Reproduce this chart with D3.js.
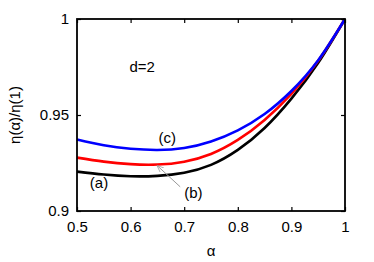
<!DOCTYPE html>
<html>
<head>
<meta charset="utf-8">
<script src="https://cdn.jsdelivr.net/npm/d3@7"></script>
<style>
  body { margin: 0; background: #fff; }
  text { font-family: "Liberation Sans", Arial, sans-serif; }
</style>
</head>
<body>
<div class="chart"></div>
<script>
// chart data
var alphas = [0.5, 0.55, 0.6, 0.65, 0.7, 0.75, 0.8, 0.85, 0.9, 0.95, 1.0];
var curveA = [0.9205, 0.9190, 0.9181, 0.9183, 0.9199, 0.9240, 0.9318, 0.9432, 0.9585, 0.9772, 1.0];
var curveB = [0.9278, 0.9257, 0.9244, 0.9242, 0.9257, 0.9297, 0.9370, 0.9474, 0.9610, 0.9782, 1.0];
var curveC = [0.9372, 0.9342, 0.9324, 0.9318, 0.9328, 0.9362, 0.9420, 0.9505, 0.9625, 0.9785, 1.0];
var xTicks = [0.5, 0.6, 0.7, 0.8, 0.9, 1];
var yTicks = [0.9, 0.95, 1];

var svgWidth = 374;
var svgHeight = 262;

var margin = { top: 19, right: 29, bottom: 51, left: 77 };
var width = svgWidth - margin.left - margin.right;
var height = svgHeight - margin.top - margin.bottom;

var svg = d3.select(".chart")
    .append("svg")
    .attr("width", svgWidth)
    .attr("height", svgHeight);

var chartGroup = svg.append("g")
    .attr("transform", `translate(${margin.left}, ${margin.top})`);

// scales
var xScale = d3.scaleLinear().domain([0.5, 1]).range([0, width]);
var yScale = d3.scaleLinear().domain([0.9, 1]).range([height, 0]);

// curves
var series = [
    { vals: curveA, color: "#000000" },
    { vals: curveB, color: "#ff0000" },
    { vals: curveC, color: "#0000ff" }
];

var line = d3.line()
    .x(d => xScale(d[0]))
    .y(d => yScale(d[1]))
    .curve(d3.curveNatural);

series.forEach(function(s) {
    chartGroup.append("path")
        .datum(alphas.map((a, i) => [a, s.vals[i]]))
        .attr("d", line)
        .attr("fill", "none")
        .attr("stroke", s.color)
        .attr("stroke-width", 2.6);
});

// axes, ticks pointing inward on all sides
var tickLen = 4;
function styleAxis(g) {
    g.select(".domain").remove();
    g.selectAll(".tick line").attr("stroke", "#000").attr("stroke-width", 1.2);
    g.selectAll(".tick text").attr("font-size", 15).attr("fill", "#000");
}

chartGroup.append("g")
    .attr("transform", `translate(0, ${height})`)
    .call(d3.axisBottom(xScale).tickValues(xTicks).tickFormat(d3.format("")).tickSizeInner(-tickLen).tickPadding(10))
    .call(styleAxis);

chartGroup.append("g")
    .call(d3.axisTop(xScale).tickValues(xTicks).tickFormat("").tickSizeInner(-tickLen))
    .call(styleAxis);

chartGroup.append("g")
    .call(d3.axisLeft(yScale).tickValues(yTicks).tickFormat(d3.format("")).tickSizeInner(-tickLen).tickPadding(8))
    .call(styleAxis);

chartGroup.append("g")
    .attr("transform", `translate(${width}, 0)`)
    .call(d3.axisRight(yScale).tickValues(yTicks).tickFormat("").tickSizeInner(-tickLen))
    .call(styleAxis);

// frame
chartGroup.append("rect")
    .attr("width", width)
    .attr("height", height)
    .attr("fill", "none")
    .attr("stroke", "#000")
    .attr("stroke-width", 1.8);

// axis titles
svg.append("text")
    .attr("x", margin.left + width / 2)
    .attr("y", 256)
    .attr("text-anchor", "middle")
    .attr("font-size", 15)
    .text("α");

svg.append("text")
    .attr("transform", `translate(20, ${margin.top + height / 2}) rotate(-90)`)
    .attr("text-anchor", "middle")
    .attr("font-size", 15)
    .text("η(α)/η(1)");

// annotations
chartGroup.append("text")
    .attr("x", xScale(0.598))
    .attr("y", yScale(0.9725))
    .attr("font-size", 15)
    .text("d=2");

chartGroup.append("text")
    .attr("x", xScale(0.652))
    .attr("y", yScale(0.9354))
    .attr("font-size", 15)
    .text("(c)");

chartGroup.append("text")
    .attr("x", xScale(0.524))
    .attr("y", yScale(0.9118))
    .attr("font-size", 15)
    .text("(a)");

chartGroup.append("text")
    .attr("x", xScale(0.7))
    .attr("y", yScale(0.9068))
    .attr("font-size", 15)
    .text("(b)");

// arrow from (b) to the red curve
svg.append("defs").append("marker")
    .attr("id", "head")
    .attr("viewBox", "0 0 10 10")
    .attr("refX", 10)
    .attr("refY", 5)
    .attr("markerWidth", 7)
    .attr("markerHeight", 7)
    .attr("orient", "auto")
    .append("path")
    .attr("d", "M0,1 L10,5 L0,9")
    .attr("fill", "none")
    .attr("stroke", "#999");

chartGroup.append("line")
    .attr("x1", xScale(0.6925))
    .attr("y1", yScale(0.9126))
    .attr("x2", xScale(0.649))
    .attr("y2", yScale(0.9238))
    .attr("stroke", "#999")
    .attr("stroke-width", 1)
    .attr("marker-end", "url(#head)");
</script>
</body>
</html>
